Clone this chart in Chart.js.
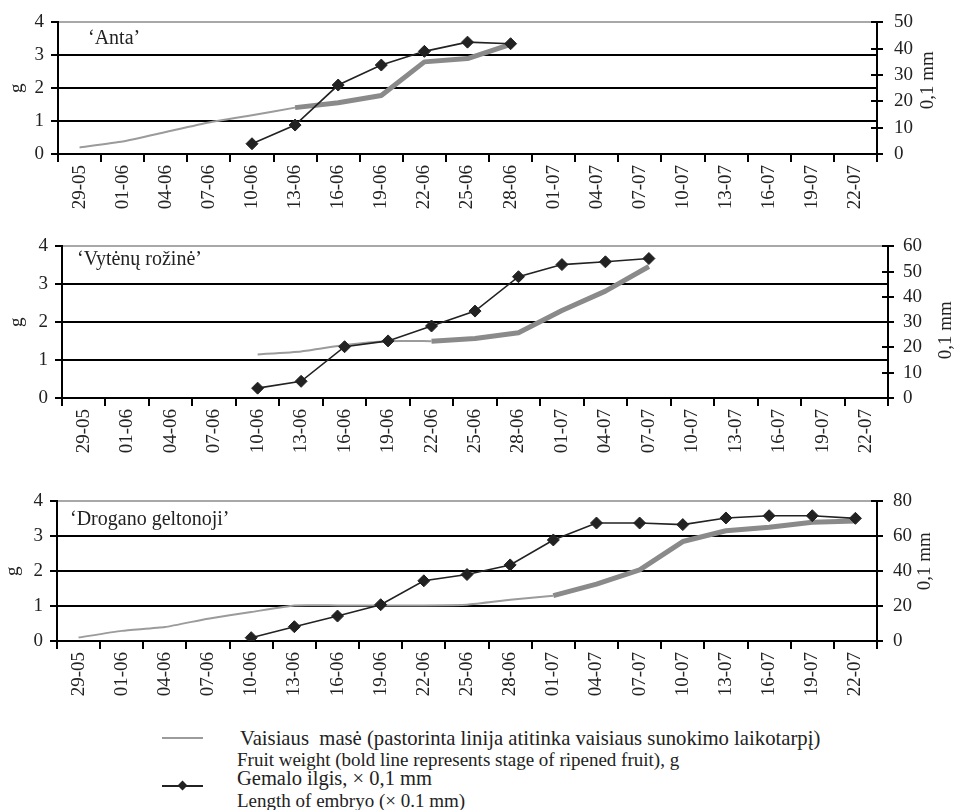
<!DOCTYPE html>
<html>
<head>
<meta charset="utf-8">
<script src="https://cdn.jsdelivr.net/npm/chart.js@4.4.1/dist/chart.umd.min.js"></script>
<style>
  html, body { margin: 0; padding: 0; background: #fff; }
  #wrap { position: relative; width: 955px; height: 810px; background: #fff; overflow: hidden; font-family: 'Liberation Serif', 'DejaVu Serif', serif; color: #222; }
  canvas { position: absolute; left: 0; }
  .lbl { position: absolute; white-space: nowrap; line-height: 1; transform: translateY(-50%); }
  .leg { position: absolute; white-space: nowrap; line-height: 1; transform: translateY(-50%); }
</style>
</head>
<body>
<div id="wrap">
  <canvas id="c1" width="955" height="215" style="top:0px;width:955px;height:215px"></canvas>
  <canvas id="c2" width="955" height="235" style="top:226px;width:955px;height:235px"></canvas>
  <canvas id="c3" width="955" height="220" style="top:480px;width:955px;height:220px"></canvas>

  <div class="lbl" style="left:88px;top:37px;font-size:20px">‘Anta’</div>
  <div class="lbl" style="left:77px;top:258px;font-size:20px">‘Vytėnų rožinė’</div>
  <div class="lbl" style="left:70px;top:518px;font-size:20px">‘Drogano geltonoji’</div>

  <div style="position:absolute;left:162px;top:737px;width:41px;height:2px;background:#9b9b9b"></div>
  <div style="position:absolute;left:162px;top:785px;width:41px;height:2px;background:#222"></div>
  <div style="position:absolute;left:179px;top:782px;width:7px;height:7px;background:#222;transform:rotate(45deg)"></div>
  <div class="leg" style="left:240px;top:738px;font-size:20.7px">Vaisiaus&nbsp; masė (pastorinta linija atitinka vaisiaus sunokimo laikotarpį)</div>
  <div class="leg" style="left:237px;top:759px;font-size:19px">Fruit weight (bold line represents stage of ripened fruit), g</div>
  <div class="leg" style="left:237px;top:778px;font-size:20.5px">Gemalo ilgis, × 0,1 mm</div>
  <div class="leg" style="left:237px;top:800px;font-size:19px">Length of embryo (× 0.1 mm)</div>
</div>
<script>
// ---- data ----
const categories = ['29-05','01-06','04-06','07-06','10-06','13-06','16-06','19-06','22-06','25-06','28-06','01-07','04-07','07-07','10-07','13-07','16-07','19-07','22-07'];
const leftTicks = [0, 1, 2, 3, 4];

// 'Anta'
const antaFruitThin = [0.2, 0.38, 0.67, 0.96, 1.18, 1.41, null, null, null, null, null, null, null, null, null, null, null, null, null];
const antaFruitBold = [null, null, null, null, null, 1.41, 1.56, 1.78, 2.8, 2.9, 3.33, null, null, null, null, null, null, null, null];
const antaEmbryo    = [null, null, null, null, 3.9, 11.0, 26.2, 33.8, 39.0, 42.5, 41.9, null, null, null, null, null, null, null, null];
const antaRightMax = 50, antaRightStep = 10;

// 'Vytėnų rožinė'
const vytFruitThin = [null, null, null, null, 1.15, 1.23, 1.40, 1.50, 1.50, null, null, null, null, null, null, null, null, null, null];
const vytFruitBold = [null, null, null, null, null, null, null, null, 1.50, 1.57, 1.72, 2.31, 2.82, 3.47, null, null, null, null, null];
const vytEmbryo    = [null, null, null, null, 3.9, 6.6, 20.3, 22.6, 28.5, 34.4, 48.0, 52.8, 53.9, 55.2, null, null, null, null, null];
const vytRightMax = 60, vytRightStep = 10;

// 'Drogano geltonoji'
const droFruitThin = [0.1, 0.29, 0.4, 0.64, 0.83, 1.02, 1.02, 1.02, 1.02, 1.04, 1.18, 1.3, null, null, null, null, null, null, null];
const droFruitBold = [null, null, null, null, null, null, null, null, null, null, null, 1.3, 1.63, 2.04, 2.85, 3.16, 3.26, 3.4, 3.44];
const droEmbryo    = [null, null, null, null, 1.9, 8.2, 14.3, 20.8, 34.5, 38.1, 43.6, 57.9, 67.6, 67.6, 66.7, 70.5, 71.8, 71.8, 70.3];
const droRightMax = 80, droRightStep = 20;

// ---- rendering ----
const FONT = "'Liberation Serif', 'DejaVu Serif', serif";
const INK = '#222';
Chart.defaults.font.family = FONT;
Chart.defaults.font.size = 19;
Chart.defaults.color = INK;

const extrasPlugin = {
  id: 'extras',
  afterDraw(chart, args, opts) {
    const ctx = chart.ctx;
    const s = chart.scales.y1;
    ctx.save();
    // inner half of right-axis tick marks
    ctx.strokeStyle = '#000';
    ctx.lineWidth = 2;
    s.ticks.forEach(t => {
      const y = Math.round(s.getPixelForValue(t.value));
      ctx.beginPath();
      ctx.moveTo(s.left - 6, y);
      ctx.lineTo(s.left, y);
      ctx.stroke();
    });
    // right axis title, reading bottom-to-top
    ctx.fillStyle = INK;
    ctx.font = "19px " + FONT;
    ctx.textAlign = 'center';
    ctx.textBaseline = 'middle';
    const ca = chart.chartArea;
    ctx.translate(opts.titleX, (ca.top + ca.bottom) / 2 + (opts.titleDy || 0));
    ctx.rotate(-Math.PI / 2);
    ctx.fillText('0,1 mm', 0, 0);
    ctx.restore();
  }
};

function makeChart(id, thin, bold, embryo, rightMax, rightStep, L) {
  return new Chart(document.getElementById(id), {
    type: 'line',
    data: {
      labels: categories,
      datasets: [
        { label: 'Gemalo ilgis', data: embryo, yAxisID: 'y1', borderColor: INK, backgroundColor: INK,
          borderWidth: 1.6, pointStyle: 'rectRot', pointRadius: 6, pointBorderWidth: 1, tension: 0, spanGaps: false },
        { label: 'Vaisiaus masė (bold)', data: bold, yAxisID: 'y', borderColor: '#8a8a8a',
          borderWidth: 5, pointRadius: 0, tension: 0, borderJoinStyle: 'round' },
        { label: 'Vaisiaus masė', data: thin, yAxisID: 'y', borderColor: '#9b9b9b',
          borderWidth: 2, pointRadius: 0, tension: 0.15 }
      ]
    },
    options: {
      responsive: false,
      animation: false,
      devicePixelRatio: 1,
      layout: { padding: { top: L.padTop, bottom: 0, left: 0, right: 0 } },
      plugins: { legend: { display: false }, tooltip: { enabled: false },
                 extras: { titleX: L.titleX, titleDy: L.titleDy } },
      scales: {
        x: {
          type: 'category',
          offset: true,
          grid: { offset: true, drawOnChartArea: false, drawTicks: true, tickLength: 8, color: '#000', lineWidth: 2 },
          border: { display: true, color: '#000', width: 2 },
          ticks: { autoSkip: false, minRotation: 90, maxRotation: 90, padding: 3, color: INK, font: { family: FONT, size: 19 } },
          afterFit(s) { s.height = L.xH; }
        },
        y: {
          position: 'left',
          min: 0, max: 4,
          afterBuildTicks(s) { s.ticks = leftTicks.map(v => ({ value: v })); },
          grid: {
            color: c => c.tick.value === 4 ? '#a8a8a8' : (c.tick.value === 0 ? 'rgba(0,0,0,0)' : '#000'),
            lineWidth: 2, drawTicks: true, tickLength: 7, tickColor: '#000'
          },
          border: { display: true, color: '#000', width: 2 },
          ticks: { autoSkip: false, padding: 7, color: INK, font: { family: FONT, size: 19 } },
          title: { display: true, text: 'g', color: INK, font: { family: FONT, size: 19 }, padding: { top: L.gPad, bottom: 0 } },
          afterFit(s) { s.width = L.leftW; }
        },
        y1: {
          position: 'right',
          min: 0, max: rightMax,
          ticks: { autoSkip: false, stepSize: rightStep, padding: L.rPad, color: INK, font: { family: FONT, size: 19 } },
          grid: { drawOnChartArea: false, drawTicks: true, tickLength: 6, color: '#000', lineWidth: 2 },
          border: { display: true, color: '#000', width: 2 },
          afterFit(s) { s.width = L.rightW; }
        }
      }
    },
    plugins: [extrasPlugin]
  });
}

makeChart('c1', antaFruitThin, antaFruitBold, antaEmbryo, antaRightMax, antaRightStep,
  { padTop: 20, xH: 61, leftW: 58, rightW: 78, titleX: 928, titleDy: -8, gPad: 6, rPad: 11 });
makeChart('c2', vytFruitThin, vytFruitBold, vytEmbryo, vytRightMax, vytRightStep,
  { padTop: 14, xH: 63, leftW: 62, rightW: 67, titleX: 946, titleDy: 8, gPad: 6, rPad: 9 });
makeChart('c3', droFruitThin, droFruitBold, droEmbryo, droRightMax, droRightStep,
  { padTop: 21, xH: 59, leftW: 57, rightW: 78, titleX: 925, titleDy: -10, gPad: 2, rPad: 10 });
</script>
</body>
</html>
